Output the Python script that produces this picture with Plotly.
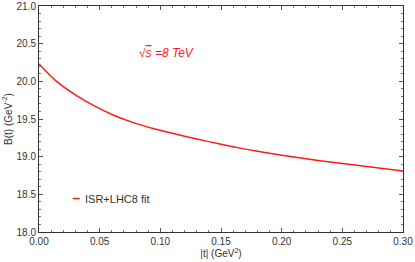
import plotly.graph_objects as go

t_vals = [0.0, 0.013, 0.03, 0.046, 0.063, 0.079, 0.094, 0.11, 0.13, 0.15, 0.17, 0.19, 0.21, 0.23, 0.25, 0.27, 0.30]
b_vals = [20.23, 20.02, 19.82, 19.67, 19.54, 19.445, 19.375, 19.31, 19.235, 19.165, 19.10, 19.045, 18.995, 18.95, 18.91, 18.87, 18.81]
series_name = "ISR+LHC8 fit"
energy_label = "√<span style='text-decoration:overline'>s</span> =8 TeV"

FONT = "Liberation Sans, Arial, sans-serif"
RED = "#ff1a1a"

fig = go.Figure()
fig.add_trace(go.Scatter(x=t_vals, y=b_vals, mode="lines", name=series_name,
                         line=dict(color=RED, width=1.5, shape="spline", smoothing=0.5),
                         showlegend=False, hoverinfo="skip"))

axis_common = dict(showline=True, linecolor="#333", linewidth=1, mirror="ticks",
                   ticks="inside", ticklen=4, tickcolor="#555", showgrid=False,
                   zeroline=False, automargin=False,
                   tickfont=dict(size=10, color="#333", family=FONT))

fig.update_xaxes(range=[0, 0.30], dtick=0.05, tickformat=".2f",
                 minor=dict(dtick=0.01, ticks="inside", ticklen=2, tickcolor="#777"),
                 title=dict(text="|t| (GeV<sup>2</sup>)", font=dict(size=10, color="#333", family=FONT), standoff=0),
                 **axis_common)
fig.update_yaxes(range=[18, 21], dtick=0.5, tickformat=".1f",
                 minor=dict(dtick=0.1, ticks="inside", ticklen=2, tickcolor="#777"),
                 title=dict(text="B(t) (GeV<sup>-2</sup>)", font=dict(size=10, color="#333", family=FONT), standoff=2),
                 **axis_common)

fig.add_annotation(x=0.105, y=20.38, xref="x", yref="y", text="<i>" + energy_label + "</i>",
                   showarrow=False, font=dict(size=12, color=RED, family=FONT))

fig.add_shape(type="line", xref="paper", yref="paper", x0=0.093, x1=0.112, y0=0.148, y1=0.148,
              line=dict(color=RED, width=1.5))
fig.add_annotation(xref="paper", yref="paper", x=0.122, y=0.148, xanchor="left", yanchor="middle",
                   text=series_name, showarrow=False, font=dict(size=11, color="#333", family=FONT))

fig.update_layout(width=415, height=262, margin=dict(l=39, r=12, t=6, b=30),
                  paper_bgcolor="white", plot_bgcolor="white",
                  font=dict(family=FONT))

fig.write_html("out.html", config={"displayModeBar": False, "staticPlot": True},
               post_script="document.body.style.margin='0';document.body.style.overflow='hidden';")
